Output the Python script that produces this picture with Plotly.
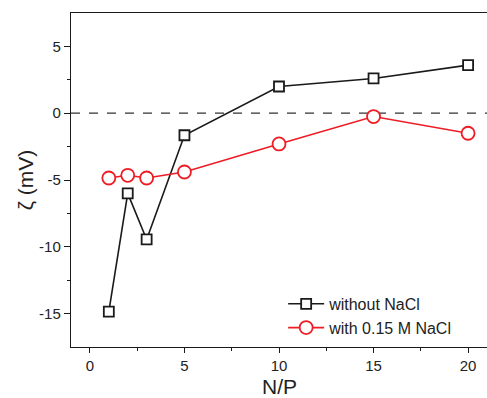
import plotly.graph_objects as go

# N/P ratios and zeta potentials (mV)
np_ratio = [1, 2, 3, 5, 10, 15, 20]
zeta_without = [-14.85, -6.0, -9.45, -1.65, 2.0, 2.6, 3.6]
zeta_nacl = [-4.85, -4.65, -4.85, -4.4, -2.3, -0.25, -1.5]

series_names = ["without NaCl", "with 0.15 M NaCl"]
x_ticks = [0, 5, 10, 15, 20]
y_ticks = [-15, -10, -5, 0, 5]
y_tick_labels = ["-15", "-10", "-5", "0", "5"]

BLACK = "#1a1a1a"
RED = "#ee1c24"
FONT = "Liberation Sans, Arial, sans-serif"

fig = go.Figure()

fig.add_trace(go.Scatter(
    x=np_ratio, y=zeta_without, name=series_names[0], mode="lines+markers",
    line=dict(color=BLACK, width=1.6),
    marker=dict(symbol="square", size=10, color="white",
                line=dict(color=BLACK, width=1.8)),
))
fig.add_trace(go.Scatter(
    x=np_ratio, y=zeta_nacl, name=series_names[1], mode="lines+markers",
    line=dict(color=RED, width=1.6),
    marker=dict(symbol="circle", size=13, color="white",
                line=dict(color=RED, width=1.8)),
))

# zero reference line
fig.add_shape(type="line", xref="paper", x0=0, x1=1, yref="y", y0=0, y1=0,
              line=dict(color="#333333", width=1.2, dash="dash"), layer="below")

# axis titles
fig.add_annotation(text="N/P", xref="paper", yref="paper", x=0.5, y=-0.118,
                   xanchor="center", yanchor="middle", showarrow=False,
                   font=dict(size=21))
fig.add_annotation(text="ζ (mV)", xref="paper", yref="paper", x=-0.11, y=0.5,
                   xanchor="center", yanchor="middle", showarrow=False,
                   textangle=-90, font=dict(size=21))

fig.update_layout(
    width=487, height=398,
    margin=dict(l=71, r=0, t=13, b=51),
    paper_bgcolor="white", plot_bgcolor="white",
    font=dict(family=FONT, size=15, color="#222222"),
    showlegend=True,
    legend=dict(x=0.51, y=0.18, xanchor="left", yanchor="top",
                bgcolor="rgba(0,0,0,0)", font=dict(size=16),
                itemwidth=36, tracegroupgap=0),
    xaxis=dict(
        range=[-1, 21], tickvals=x_ticks, ticks="outside", ticklen=5,
        tickcolor=BLACK, linecolor=BLACK, linewidth=1.4, showline=True,
        mirror=True, showgrid=False, zeroline=False,
        minor=dict(tickvals=[2.5, 7.5, 12.5, 17.5], ticks="outside",
                   ticklen=3, tickcolor=BLACK),
    ),
    yaxis=dict(
        range=[-17.5, 7.5], tickvals=y_ticks, ticktext=y_tick_labels,
        ticks="outside", ticklen=6,
        tickcolor=BLACK, linecolor=BLACK, linewidth=1.4, showline=True,
        showgrid=False, zeroline=False,
        minor=dict(tickvals=[-12.5, -7.5, -2.5, 2.5], ticks="outside",
                   ticklen=3, tickcolor=BLACK),
    ),
)

fig.write_html("out.html")
